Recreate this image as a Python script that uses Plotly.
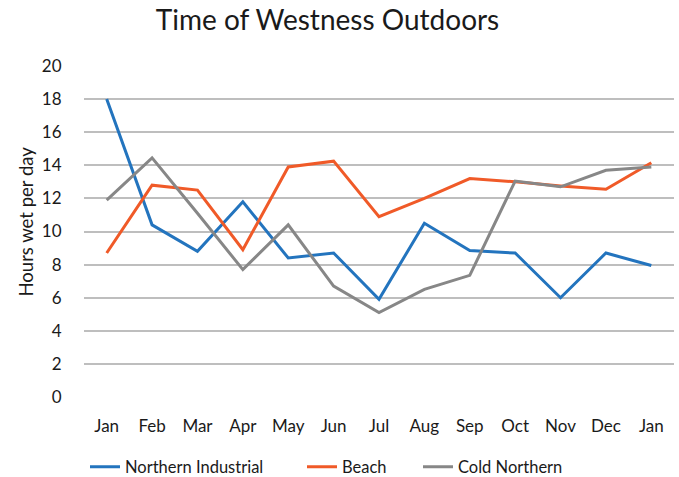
import plotly.graph_objects as go

months = ["Jan", "Feb", "Mar", "Apr", "May", "Jun", "Jul", "Aug", "Sep", "Oct", "Nov", "Dec", "Jan"]
northern_industrial = [18.0, 10.4, 8.8, 11.8, 8.4, 8.7, 5.9, 10.5, 8.85, 8.7, 6.0, 8.7, 7.95]
beach = [8.7, 12.8, 12.5, 8.9, 13.9, 14.25, 10.9, 12.0, 13.2, 13.0, 12.75, 12.55, 14.15]
cold_northern = [11.9, 14.45, 11.1, 7.7, 10.4, 6.7, 5.1, 6.5, 7.35, 13.05, 12.7, 13.7, 13.9]
y_ticks = [0, 2, 4, 6, 8, 10, 12, 14, 16, 18, 20]

x = list(range(len(months)))
font = "Lato, 'Open Sans', sans-serif"
W, H = 679, 477
L, R, T, B = 84, 5, 66, 80

fig = go.Figure()
series = [
    ("Northern Industrial", northern_industrial, "#2374BE", "legend"),
    ("Beach", beach, "#F05A28", "legend2"),
    ("Cold Northern", cold_northern, "#878787", "legend3"),
]
for name, vals, color, lg in series:
    fig.add_trace(go.Scatter(x=x, y=vals, mode="lines", name=name,
                             line=dict(color=color, width=3), legend=lg))

legend_common = dict(orientation="h", yref="container", xref="container",
                     yanchor="middle", y=(H - 467) / H, xanchor="left",
                     font=dict(size=16.5, color="#1a1a1a", family=font),
                     bgcolor="rgba(0,0,0,0)", itemwidth=30, tracegroupgap=0)

plot_w = W - L - R
plot_h = H - T - B

fig.update_layout(
    width=W, height=H,
    paper_bgcolor="white", plot_bgcolor="white",
    margin=dict(l=L, r=R, t=T, b=B, autoexpand=False),
    title=dict(text="Time of Westness Outdoors", x=327.5 / W, xanchor="center",
               xref="container", y=(H - 20) / H, yanchor="middle",
               font=dict(size=28, color="#1a1a1a", family=font)),
    showlegend=True,
    legend=dict(x=(90 - 5) / W, **legend_common),
    legend2=dict(x=(307 - 5) / W, **legend_common),
    legend3=dict(x=(423 - 5) / W, **legend_common),
    xaxis=dict(range=[-0.5, 12.5], tickvals=x, ticktext=months, showgrid=False,
               zeroline=False, showline=False, ticks="outside", ticklen=14,
               tickcolor="rgba(0,0,0,0)", automargin=False,
               tickfont=dict(size=17, color="#1a1a1a", family=font)),
    yaxis=dict(range=[0, 20], tickvals=y_ticks, showgrid=True, gridcolor="#BEBEBE",
               gridwidth=2, zeroline=False, showline=False, ticks="outside",
               ticklen=18, tickcolor="rgba(0,0,0,0)", automargin=False,
               tickfont=dict(size=17, color="#1a1a1a", family=font)),
    annotations=[dict(text="Hours wet per day", textangle=-90, showarrow=False,
                      xref="paper", yref="paper",
                      x=(25 - L) / plot_w, y=(H - B - 221.5) / plot_h,
                      xanchor="center", yanchor="middle",
                      font=dict(size=18.5, color="#1a1a1a", family=font))],
)

fig.write_html("out.html", config={"displayModeBar": False},
               post_script="document.body.style.margin='0';document.body.style.padding='0';")
